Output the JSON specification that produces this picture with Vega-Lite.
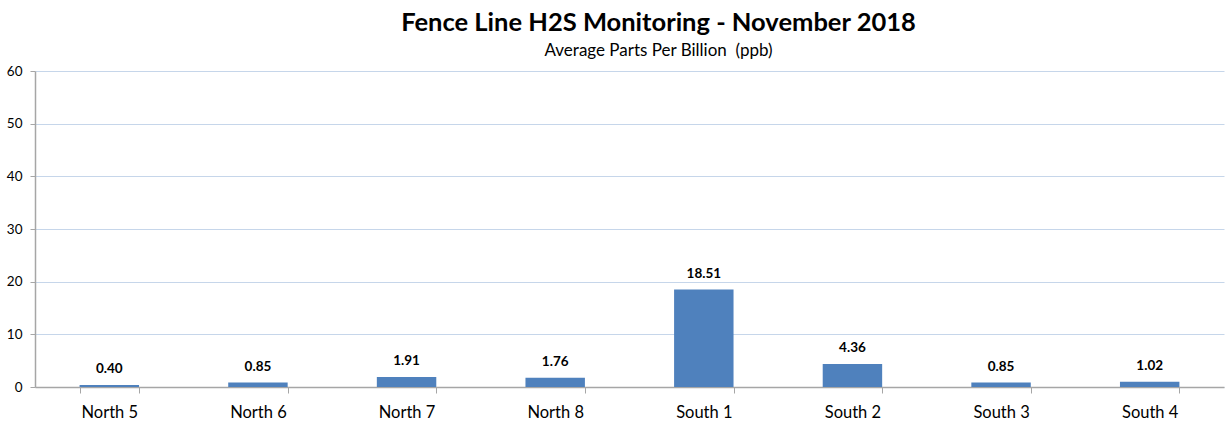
{
  "$schema": "https://vega.github.io/schema/vega-lite/v6.json",
  "width": 1189,
  "height": 316,
  "autosize": {"type": "none"},
  "padding": {"left": 35, "top": 71, "right": 1, "bottom": 35},
  "background": "white",
  "title": {
    "text": "Fence Line H2S Monitoring - November 2018",
    "subtitle": "Average Parts Per Billion\u00a0\u00a0(ppb)",
    "anchor": "middle",
    "dx": 29,
    "offset": 5,
    "font": "Lato",
    "fontSize": 25.5,
    "fontWeight": "bold",
    "color": "#000000",
    "subtitleFont": "Lato",
    "subtitleFontSize": 17,
    "subtitleColor": "#000000",
    "subtitlePadding": 7
  },
  "data": {
    "values": [
      {"station": "North 5", "ppb": 0.40},
      {"station": "North 6", "ppb": 0.85},
      {"station": "North 7", "ppb": 1.91},
      {"station": "North 8", "ppb": 1.76},
      {"station": "South 1", "ppb": 18.51},
      {"station": "South 2", "ppb": 4.36},
      {"station": "South 3", "ppb": 0.85},
      {"station": "South 4", "ppb": 1.02}
    ]
  },
  "encoding": {
    "x": {
      "field": "station",
      "type": "nominal",
      "sort": null,
      "scale": {"paddingInner": 0.6, "paddingOuter": 0.3},
      "axis": {
        "title": null,
        "labelAngle": 0,
        "labelFont": "Lato",
        "labelFontSize": 16.5,
        "labelColor": "#000000",
        "labelPadding": 11,
        "domainColor": "#a6a6a6",
        "domainWidth": 1.5,
        "tickColor": "#a6a6a6",
        "tickSize": 6,
        "tickBand": "extent",
        "grid": false
      }
    },
    "y": {
      "field": "ppb",
      "type": "quantitative",
      "scale": {"domain": [0, 60], "nice": false},
      "axis": {
        "title": null,
        "values": [0, 10, 20, 30, 40, 50, 60],
        "labelFont": "Lato",
        "labelFontSize": 13.5,
        "labelColor": "#000000",
        "labelPadding": 8,
        "domainColor": "#a6a6a6",
        "domainWidth": 1.5,
        "tickColor": "#a6a6a6",
        "tickSize": 5,
        "gridColor": "#c6d6ea",
        "gridWidth": 1
      }
    }
  },
  "layer": [
    {"mark": {"type": "bar", "color": "#4f81bd"}},
    {
      "mark": {"type": "text", "baseline": "bottom", "dy": -9, "font": "Lato", "fontSize": 13.5, "fontWeight": "bold", "color": "#000000"},
      "encoding": {"text": {"field": "ppb", "type": "quantitative", "format": ".2f"}}
    }
  ],
  "config": {"view": {"stroke": null}}
}
